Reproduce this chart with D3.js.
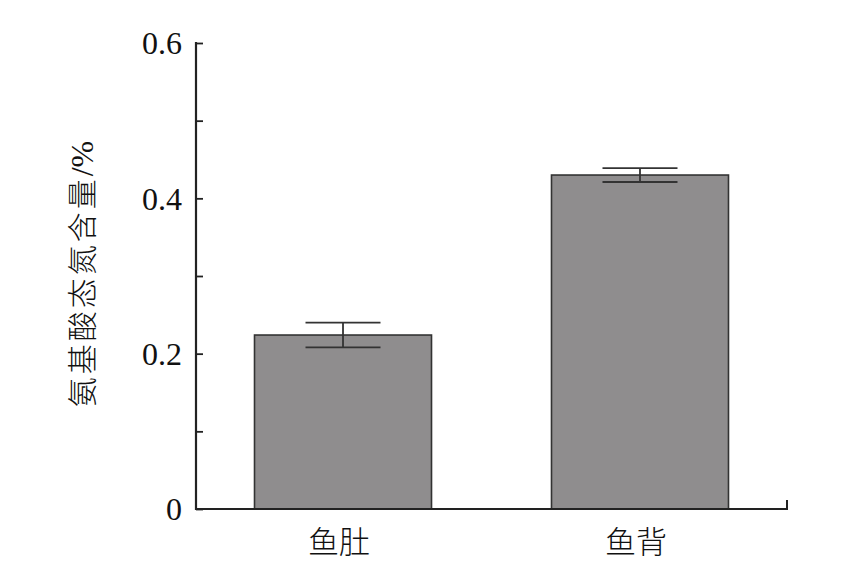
<!DOCTYPE html>
<html><head><meta charset="utf-8">
<script src="https://cdn.jsdelivr.net/npm/d3@7"></script>
<style>body{margin:0;background:#fff}</style>
</head><body>
<svg id="c" width="855" height="571"></svg>
<script>
const categories = ["鱼肚", "鱼背"];
const values = [0.224, 0.430];
const errors = [0.016, 0.009];
const yTicksMajor = [0, 0.2, 0.4, 0.6];
const yTickLabels = ["0", "0.2", "0.4", "0.6"];
const yTicksMinor = [0.1, 0.3, 0.5];
const yLabelMain = "氨基酸态氮含量";
const yLabelUnit = "/%";

const svg = d3.select("#c");
const mLeft = 196, mRight = 787, mTop = 43, mBottom = 509;
const x = d3.scaleBand().domain(categories).range([mLeft, mRight]).paddingInner(0.404).paddingOuter(0.197);
const y = d3.scaleLinear().domain([0, 0.6]).range([mBottom, mTop]);
const axisColor = "#222";

// bars
svg.selectAll("rect.bar").data(values).join("rect")
  .attr("x", (d, i) => x(categories[i]))
  .attr("width", x.bandwidth())
  .attr("y", d => y(d))
  .attr("height", d => y(0) - y(d))
  .attr("fill", "#8f8d8e")
  .attr("stroke", "#333")
  .attr("stroke-width", 1.6);

// error bars
const capW = 75;
const g = svg.append("g").attr("stroke", "#333").attr("stroke-width", 1.8);
values.forEach((v, i) => {
  const cx = x(categories[i]) + x.bandwidth() / 2;
  g.append("line").attr("x1", cx).attr("x2", cx).attr("y1", y(v + errors[i])).attr("y2", y(v - errors[i]));
  g.append("line").attr("x1", cx - capW / 2).attr("x2", cx + capW / 2).attr("y1", y(v + errors[i])).attr("y2", y(v + errors[i]));
  g.append("line").attr("x1", cx - capW / 2).attr("x2", cx + capW / 2).attr("y1", y(v - errors[i])).attr("y2", y(v - errors[i]));
});

// y axis
const yAxis = d3.axisRight(y).tickValues(yTicksMajor.concat(yTicksMinor)).tickSize(7).tickFormat("");
const ya = svg.append("g").attr("transform", `translate(${mLeft},0)`).call(yAxis);
ya.select(".domain").remove();
ya.selectAll("line").attr("stroke", axisColor).attr("stroke-width", 1.8);
svg.append("line").attr("x1", mLeft).attr("x2", mLeft).attr("y1", mTop - 1).attr("y2", mBottom + 1)
  .attr("stroke", axisColor).attr("stroke-width", 2.2);

svg.selectAll("text.ytl").data(yTicksMajor).join("text")
  .attr("x", mLeft - 14).attr("y", d => y(d)).attr("dy", "0.35em")
  .attr("text-anchor", "end")
  .attr("font-family", "Liberation Serif, serif").attr("font-size", 32).attr("fill", "#111")
  .text((d, i) => yTickLabels[i]);

// x axis
svg.append("line").attr("x1", mLeft - 1).attr("x2", mRight + 1).attr("y1", mBottom).attr("y2", mBottom)
  .attr("stroke", axisColor).attr("stroke-width", 2.2);
svg.append("line").attr("x1", mRight).attr("x2", mRight).attr("y1", mBottom).attr("y2", mBottom - 9)
  .attr("stroke", axisColor).attr("stroke-width", 2);

svg.selectAll("text.xtl").data(categories).join("text")
  .attr("x", d => x(d) + x.bandwidth() / 2 - 4).attr("y", 553)
  .attr("text-anchor", "middle")
  .attr("font-family", "Noto Sans CJK SC, sans-serif").attr("font-size", 31).attr("font-weight", 300).attr("fill", "#111")
  .text(d => d);

// y label
const yl = svg.append("text")
  .attr("transform", `translate(93,274) rotate(-90)`)
  .attr("text-anchor", "middle")
  .attr("fill", "#111");
yl.append("tspan")
  .attr("font-family", "Noto Sans CJK SC, sans-serif").attr("font-size", 30).attr("font-weight", 300)
  .attr("letter-spacing", 3)
  .text(yLabelMain);
yl.append("tspan")
  .attr("font-family", "Liberation Serif, serif").attr("font-size", 32)
  .text(yLabelUnit);
</script>
</body></html>
